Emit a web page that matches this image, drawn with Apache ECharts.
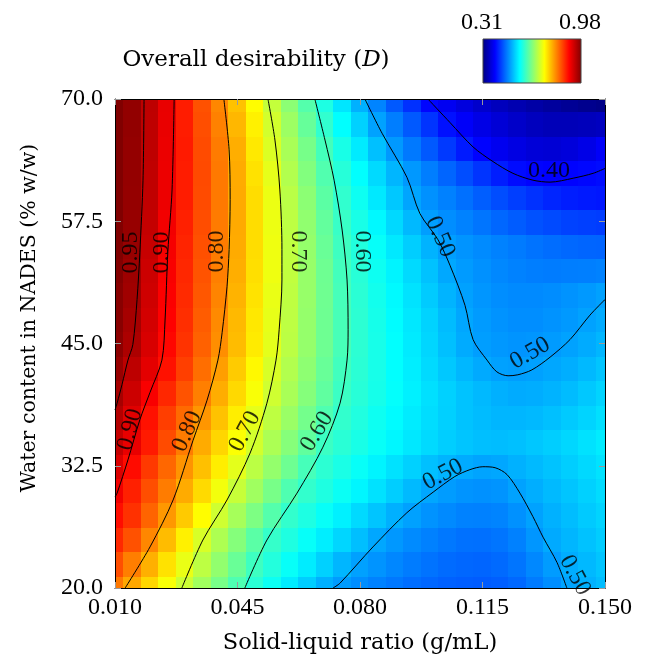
<!doctype html>
<html>
<head>
<meta charset="utf-8">
<title>Overall desirability (D)</title>
<style>
  html, body { margin: 0; padding: 0; background: #fff; }
  #main { width: 648px; height: 658px; }
</style>
</head>
<body>
<div id="main"></div>
<script src="https://cdn.jsdelivr.net/npm/echarts@6/dist/echarts.min.js"></script>
<script>
// solid-liquid ratio (g/mL), grid columns
var ratios = [0.010, 0.015, 0.020, 0.025, 0.030, 0.035, 0.040, 0.045, 0.050, 0.055,
              0.060, 0.065, 0.070, 0.075, 0.080, 0.085, 0.090, 0.095, 0.100, 0.105,
              0.110, 0.115, 0.120, 0.125, 0.130, 0.135, 0.140, 0.145, 0.150];
// water content in NADES (% w/w), grid rows
var waterContents = [20, 22.5, 25, 27.5, 30, 32.5, 35, 37.5, 40, 42.5, 45,
                     47.5, 50, 52.5, 55, 57.5, 60, 62.5, 65, 67.5, 70];

// overall desirability D, one row per water content
var d20   = [0.818,0.787,0.756,0.725,0.695,0.667,0.640,0.612,0.589,0.569,0.549,0.529,0.509,0.496,0.487,0.479,0.472,0.466,0.461,0.457,0.455,0.454,0.456,0.462,0.474,0.487,0.501,0.510,0.518];
var d22_5 = [0.845,0.814,0.781,0.748,0.715,0.685,0.657,0.630,0.602,0.584,0.566,0.549,0.531,0.513,0.499,0.491,0.482,0.475,0.469,0.464,0.461,0.460,0.463,0.470,0.483,0.496,0.507,0.515,0.523];
var d25   = [0.870,0.843,0.808,0.773,0.738,0.703,0.675,0.648,0.620,0.596,0.581,0.565,0.550,0.534,0.519,0.503,0.493,0.485,0.478,0.472,0.468,0.467,0.470,0.478,0.492,0.505,0.513,0.521,0.528];
var d27_5 = [0.888,0.864,0.831,0.797,0.764,0.730,0.697,0.670,0.643,0.616,0.594,0.580,0.566,0.552,0.537,0.523,0.509,0.499,0.490,0.484,0.479,0.478,0.480,0.489,0.500,0.510,0.518,0.526,0.533];
var d30   = [0.905,0.875,0.845,0.815,0.784,0.753,0.721,0.692,0.666,0.640,0.613,0.594,0.581,0.568,0.555,0.542,0.529,0.516,0.503,0.496,0.491,0.489,0.491,0.500,0.508,0.516,0.523,0.531,0.538];
var d32_5 = [0.920,0.889,0.859,0.829,0.799,0.770,0.740,0.711,0.684,0.658,0.633,0.607,0.590,0.578,0.566,0.554,0.542,0.531,0.520,0.512,0.506,0.501,0.503,0.510,0.516,0.522,0.529,0.536,0.543];
var d35   = [0.935,0.911,0.879,0.847,0.815,0.784,0.756,0.727,0.699,0.674,0.649,0.625,0.600,0.588,0.577,0.566,0.556,0.546,0.537,0.529,0.523,0.519,0.518,0.520,0.524,0.529,0.535,0.542,0.549];
var d37_5 = [0.947,0.917,0.885,0.856,0.827,0.798,0.769,0.740,0.712,0.686,0.662,0.637,0.613,0.594,0.582,0.570,0.559,0.549,0.539,0.530,0.522,0.517,0.513,0.513,0.515,0.520,0.526,0.533,0.541];
var d40   = [0.955,0.930,0.900,0.871,0.842,0.813,0.783,0.754,0.725,0.697,0.672,0.648,0.624,0.600,0.587,0.575,0.563,0.552,0.541,0.531,0.522,0.515,0.509,0.506,0.507,0.511,0.517,0.525,0.533];
var d42_5 = [0.965,0.940,0.914,0.885,0.855,0.824,0.793,0.763,0.733,0.703,0.678,0.654,0.629,0.604,0.589,0.576,0.562,0.550,0.537,0.525,0.514,0.505,0.499,0.497,0.499,0.503,0.508,0.515,0.523];
var d45   = [0.972,0.951,0.922,0.892,0.863,0.833,0.803,0.773,0.742,0.711,0.684,0.659,0.633,0.608,0.590,0.576,0.562,0.548,0.534,0.520,0.506,0.497,0.493,0.491,0.492,0.495,0.500,0.506,0.513];
var d47_5 = [0.975,0.955,0.925,0.896,0.866,0.836,0.806,0.775,0.744,0.713,0.685,0.659,0.633,0.608,0.590,0.575,0.560,0.546,0.532,0.517,0.503,0.495,0.490,0.487,0.487,0.490,0.494,0.500,0.506];
var d50   = [0.975,0.959,0.928,0.898,0.869,0.839,0.810,0.779,0.747,0.715,0.686,0.660,0.634,0.607,0.589,0.573,0.558,0.543,0.527,0.512,0.499,0.492,0.487,0.484,0.484,0.486,0.490,0.494,0.499];
var d52_5 = [0.978,0.961,0.930,0.900,0.871,0.842,0.813,0.782,0.750,0.718,0.688,0.660,0.633,0.605,0.587,0.570,0.554,0.537,0.521,0.504,0.495,0.489,0.483,0.479,0.476,0.475,0.476,0.477,0.479];
var d55   = [0.980,0.964,0.933,0.902,0.873,0.844,0.815,0.784,0.751,0.718,0.687,0.659,0.630,0.602,0.583,0.565,0.547,0.529,0.511,0.497,0.491,0.485,0.479,0.474,0.469,0.465,0.462,0.460,0.459];
var d57_5 = [0.980,0.965,0.935,0.904,0.875,0.846,0.816,0.785,0.751,0.717,0.685,0.656,0.626,0.598,0.577,0.557,0.536,0.515,0.497,0.487,0.479,0.470,0.461,0.454,0.447,0.442,0.437,0.435,0.433];
var d60   = [0.980,0.966,0.938,0.908,0.878,0.847,0.817,0.785,0.751,0.716,0.683,0.653,0.621,0.593,0.570,0.547,0.525,0.502,0.489,0.478,0.467,0.455,0.444,0.434,0.426,0.418,0.413,0.410,0.408];
var d62_5 = [0.980,0.967,0.938,0.908,0.878,0.848,0.817,0.784,0.748,0.712,0.678,0.646,0.614,0.586,0.562,0.537,0.513,0.493,0.476,0.460,0.444,0.428,0.413,0.401,0.396,0.394,0.395,0.398,0.401];
var d65   = [0.980,0.967,0.939,0.909,0.879,0.847,0.816,0.782,0.743,0.705,0.672,0.639,0.606,0.577,0.548,0.520,0.494,0.473,0.452,0.431,0.411,0.395,0.384,0.375,0.368,0.366,0.370,0.378,0.390];
var d67_5 = [0.980,0.968,0.939,0.910,0.878,0.845,0.812,0.776,0.738,0.699,0.664,0.628,0.593,0.562,0.531,0.500,0.476,0.452,0.428,0.404,0.390,0.377,0.367,0.358,0.351,0.347,0.347,0.349,0.352];
var d70   = [0.980,0.968,0.940,0.911,0.878,0.843,0.808,0.769,0.730,0.690,0.653,0.616,0.580,0.545,0.510,0.480,0.452,0.425,0.397,0.385,0.372,0.360,0.350,0.342,0.335,0.329,0.324,0.319,0.315];
var desirability = [d20, d22_5, d25, d27_5, d30, d32_5, d35, d37_5, d40, d42_5, d45,
                    d47_5, d50, d52_5, d55, d57_5, d60, d62_5, d65, d67_5, d70];

var dMin = 0.31;
var dMax = 0.98;

// contour lines, [ratio, water]
var c095 = [[0.0183,70.0],[0.0180,61.7],[0.0171,54.3],[0.0163,49.5],[0.0151,44.9],[0.0137,43.3],[0.0120,40.8],[0.0106,38.9],[0.0100,38.2]];
var c090 = [[0.0269,70.0],[0.0263,60.7],[0.0251,54.4],[0.0243,47.4],[0.0234,43.3],[0.0200,40.0],[0.0171,37.2],[0.0137,33.1],[0.0106,29.7],[0.0100,29.3]];
var c080 = [[0.0411,70.0],[0.0426,64.8],[0.0429,59.7],[0.0426,54.6],[0.0420,50.8],[0.0406,46.1],[0.0394,43.3],[0.0363,39.2],[0.0323,35.1],[0.0266,29.0],[0.0200,24.2],[0.0129,20.0]];
var c070 = [[0.0537,70.0],[0.0557,65.8],[0.0571,60.7],[0.0577,54.6],[0.0577,51.5],[0.0569,46.4],[0.0560,43.3],[0.0534,38.9],[0.0486,33.8],[0.0420,29.0],[0.0351,24.9],[0.0291,20.0]];
var c060 = [[0.0671,70.0],[0.0700,65.8],[0.0726,61.7],[0.0749,56.6],[0.0763,51.5],[0.0766,46.4],[0.0763,43.3],[0.0743,38.9],[0.0694,34.4],[0.0620,29.7],[0.0534,24.9],[0.0471,20.0]];
var c050a = [[0.0814,70.0],[0.0863,66.5],[0.0934,62.0],[0.0971,58.3],[0.1023,55.6],[0.1057,53.0],[0.1100,48.9],[0.1123,45.4],[0.1163,43.3],[0.1191,42.1],[0.1223,41.7],[0.1251,41.8],[0.1291,42.3],[0.1343,43.6],[0.1400,45.4],[0.1457,47.9],[0.1500,49.5]];
var c050b = [[0.0723,20.0],[0.0743,20.5],[0.0837,24.2],[0.0934,27.7],[0.1009,29.8],[0.1071,31.4],[0.1114,32.1],[0.1151,32.4],[0.1186,32.3],[0.1220,31.6],[0.1257,29.7],[0.1294,27.3],[0.1323,25.2],[0.1363,22.6],[0.1391,20.0]];
var c040 = [[0.0994,70.0],[0.1057,67.6],[0.1123,65.1],[0.1180,63.6],[0.1237,62.4],[0.1294,61.7],[0.1343,61.5],[0.1409,61.9],[0.1466,62.4],[0.1500,62.9]];
var contourLines = [c095, c090, c080, c070, c060, c050a, c050b, c040];

// contour labels: [ratio, water, text]
var contourLabels = [
  [0.0146, 54.3, '0.95'], [0.0234, 54.3, '0.90'], [0.0391, 54.4, '0.80'],
  [0.0623, 54.4, '0.70'], [0.0806, 54.4, '0.60'], [0.1029, 55.9, '0.50'],
  [0.1340, 62.7, '0.40'], [0.1286, 44.0, '0.50'],
  [0.0143, 36.2, '0.90'], [0.0306, 36.0, '0.80'], [0.0471, 36.0, '0.70'],
  [0.0677, 36.0, '0.60'], [0.1037, 31.6, '0.50'], [0.1414, 21.3, '0.50']
];
var labelAngles = [90, 90, 90, -90, -90, -66, 0, 30, 75, 65, 62, 58, 28, -62];

var jet = ['#000080', '#0000ff', '#0080ff', '#00ffff', '#80ff80', '#ffff00', '#ff8000', '#ff0000', '#800000'];
var numFont = 'Liberation Serif';
var textFont = 'DejaVu Serif';

var cells = [];
waterContents.forEach(function (w, r) {
  ratios.forEach(function (s, c) {
    cells.push([s, w, desirability[r][c]]);
  });
});

var halfW = (ratios[1] - ratios[0]) / 2;
var halfH = (waterContents[1] - waterContents[0]) / 2;

var series = [{
  type: 'custom',
  clip: true,
  silent: true,
  z: 1,
  encode: { x: 0, y: 1 },
  data: cells,
  renderItem: function (params, api) {
    var s = api.value(0), w = api.value(1);
    var a = api.coord([s - halfW, w + halfH]);
    var b = api.coord([s + halfW, w - halfH]);
    return {
      type: 'rect',
      shape: { x: Math.floor(a[0]), y: Math.floor(a[1]),
               width: Math.ceil(b[0] - a[0]) + 1, height: Math.ceil(b[1] - a[1]) + 1 },
      style: { fill: api.visual('color') }
    };
  }
}];

contourLines.forEach(function (line) {
  series.push({
    type: 'line',
    data: line,
    symbol: 'none',
    smooth: 0.3,
    silent: true,
    z: 5,
    lineStyle: { color: '#000', width: 1 }
  });
});

series.push({
  type: 'scatter',
  symbolSize: 0,
  silent: true,
  z: 6,
  data: contourLabels.map(function (l, i) {
    return { name: l[2], value: [l[0], l[1]], label: { rotate: labelAngles[i] } };
  }),
  label: {
    show: true,
    position: 'inside',
    formatter: '{b}',
    color: '#000',
    fontFamily: numFont,
    fontSize: 24
  }
});

function axisCommon(extra) {
  var base = {
    type: 'value',
    z: 10,
    splitLine: { show: false },
    axisLine: { show: true, onZero: false, lineStyle: { color: '#000', width: 1 } },
    axisTick: { show: true, inside: true, length: 6, lineStyle: { color: '#9a9a9a', width: 1 } }
  };
  for (var k in extra) base[k] = extra[k];
  return base;
}

var chart = echarts.init(document.getElementById('main'));

chart.setOption({
  animation: false,
  backgroundColor: '#fff',
  grid: { left: 115, top: 99, width: 490, height: 489 },
  visualMap: {
    show: false,
    type: 'continuous',
    seriesIndex: 0,
    dimension: 2,
    min: dMin,
    max: dMax,
    inRange: { color: jet }
  },
  xAxis: [
    axisCommon({
      position: 'bottom', min: 0.01, max: 0.15, interval: 0.035,
      axisLabel: { margin: 8, color: '#000', fontFamily: numFont, fontSize: 24,
                   formatter: function (v) { return v.toFixed(3); } }
    }),
    axisCommon({
      position: 'top', min: 0.01, max: 0.15, interval: 0.035,
      axisLabel: { show: false }
    })
  ],
  yAxis: [
    axisCommon({
      position: 'left', min: 20, max: 70, interval: 12.5,
      axisLabel: { margin: 12, color: '#000', fontFamily: numFont, fontSize: 24,
                   formatter: function (v) { return v.toFixed(1); } }
    }),
    axisCommon({
      position: 'right', min: 20, max: 70, interval: 12.5,
      axisLabel: { show: false }
    })
  ],
  graphic: [
    {
      type: 'text', x: 256, y: 60,
      style: {
        text: 'Overall desirability ({i|D})',
        fontFamily: textFont, fontSize: 23, fill: '#000',
        align: 'center', verticalAlign: 'middle',
        rich: { i: { fontStyle: 'italic', fontFamily: textFont, fontSize: 23 } }
      }
    },
    {
      type: 'rect',
      shape: { x: 483, y: 39, width: 98, height: 44 },
      style: {
        fill: new echarts.graphic.LinearGradient(0, 0, 1, 0, jet.map(function (c, i) {
          return { offset: i / (jet.length - 1), color: c };
        })),
        stroke: '#444', lineWidth: 1
      }
    },
    {
      type: 'text', x: 482, y: 23,
      style: { text: dMin.toFixed(2), fontFamily: numFont, fontSize: 24, fill: '#000',
               align: 'center', verticalAlign: 'middle' }
    },
    {
      type: 'text', x: 580, y: 23,
      style: { text: dMax.toFixed(2), fontFamily: numFont, fontSize: 24, fill: '#000',
               align: 'center', verticalAlign: 'middle' }
    },
    {
      type: 'text', x: 360, y: 643,
      style: { text: 'Solid-liquid ratio (g/mL)', fontFamily: textFont, fontSize: 22.5, fill: '#000',
               align: 'center', verticalAlign: 'middle' }
    },
    {
      type: 'text', x: 30, y: 318, rotation: Math.PI / 2,
      style: { text: 'Water content in NADES (% w/w)', fontFamily: textFont, fontSize: 20.5, fill: '#000',
               align: 'center', verticalAlign: 'middle' }
    }
  ],
  series: series
});

window.onresize = chart.resize;
</script>
</body>
</html>
